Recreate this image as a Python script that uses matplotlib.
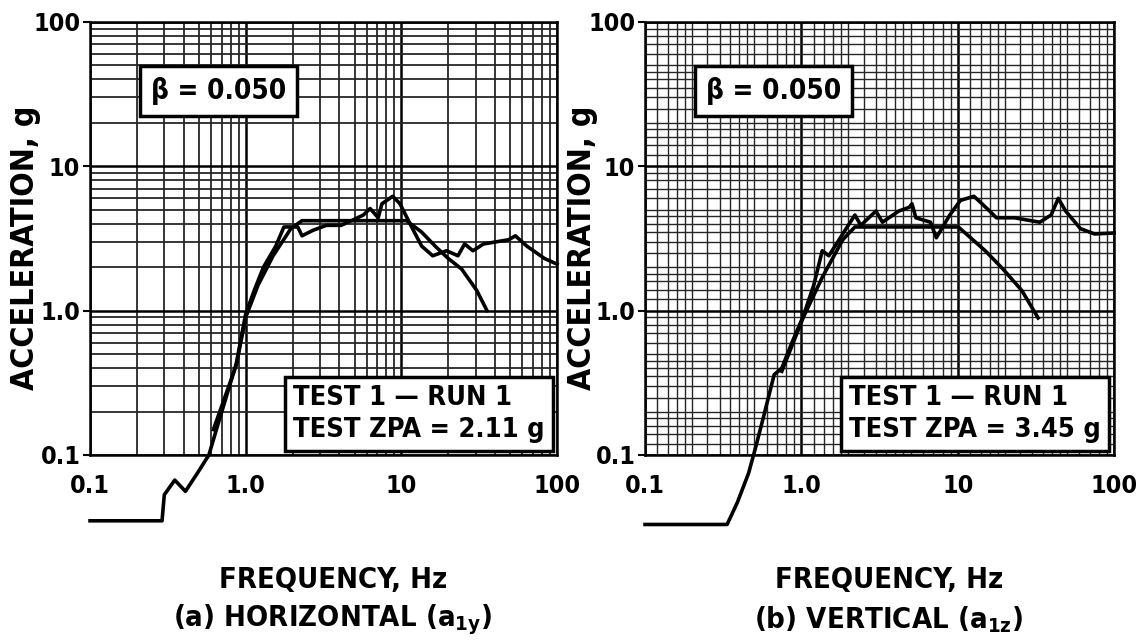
import numpy as np
import matplotlib
matplotlib.use("Agg")
import matplotlib.pyplot as plt
from matplotlib.ticker import LogLocator, NullFormatter

plt.rcParams['font.family'] = ['DejaVu Sans']
plt.rcParams['font.stretch'] = 'condensed'
plt.rcParams['font.weight'] = 'bold'
plt.rcParams['mathtext.fontset'] = 'custom'
plt.rcParams['mathtext.rm'] = 'DejaVu Sans:bold'
plt.rcParams['mathtext.it'] = 'DejaVu Sans:bold:italic'
plt.rcParams['mathtext.bf'] = 'DejaVu Sans:bold'

# (a) horizontal - measured response spectrum
h_freq = [0.1, 0.29, 0.30, 0.35, 0.41, 0.49, 0.58, 0.66, 0.87, 1.0, 1.14, 1.3, 1.56, 1.76,
          2.16, 2.3, 2.7, 3.3, 4.1, 5.0, 5.7, 6.3, 7.1, 7.5, 8.8, 9.8, 11.5, 13.5, 15.9,
          19.5, 23.1, 25.5, 28.8, 33.8, 49, 54, 64, 83, 100]
h_acc = [0.035, 0.035, 0.053, 0.067, 0.056, 0.075, 0.1, 0.16, 0.43, 0.95, 1.4, 2.0, 2.8, 3.8,
         3.8, 3.3, 3.6, 3.9, 3.9, 4.3, 4.6, 5.1, 4.4, 5.5, 6.2, 5.5, 3.9, 2.8, 2.4,
         2.6, 2.4, 2.9, 2.6, 2.9, 3.1, 3.3, 2.8, 2.3, 2.1]
# (a) horizontal - required envelope
h_env_freq = [0.62, 0.87, 1.0, 1.2, 1.5, 1.95, 2.3, 10.8, 13.5, 16.7, 20, 24.4, 30.5, 35.5]
h_env_acc = [0.15, 0.42, 0.9, 1.5, 2.4, 3.7, 4.2, 4.2, 3.5, 2.76, 2.3, 1.94, 1.38, 1.0]

# (b) vertical - measured response spectrum
v_freq = [0.1, 0.335, 0.39, 0.46, 0.51, 0.57, 0.67, 0.75, 0.87, 1.03, 1.2, 1.36, 1.5, 1.84,
          2.2, 2.4, 3.0, 3.3, 4.2, 4.9, 5.1, 5.4, 6.7, 7.3, 8.9, 10.4, 12.7, 14.3, 16,
          17.7, 23, 33.5, 39.6, 44, 49, 61, 75, 100]
v_acc = [0.033, 0.033, 0.047, 0.075, 0.113, 0.18, 0.36, 0.4, 0.6, 0.92, 1.5, 2.6, 2.4, 3.4,
         4.6, 3.9, 4.9, 4.1, 4.9, 5.2, 5.5, 4.4, 4.1, 3.2, 4.6, 5.8, 6.2, 5.5, 4.9,
         4.4, 4.4, 4.1, 4.6, 6.0, 4.9, 3.7, 3.4, 3.45]
# (b) vertical - required envelope
v_env_freq = [0.75, 1.03, 1.36, 1.84, 2.2, 10.1, 15, 19.5, 25.7, 32.7]
v_env_acc = [0.38, 0.9, 1.7, 3.1, 3.8, 3.8, 2.6, 1.94, 1.38, 0.89]

ticks = [0.1, 1, 10, 100]
tick_labels = ['0.1', '1.0', '10', '100']

fig = plt.figure(figsize=(11.37, 6.41), dpi=100)
ax1 = fig.add_axes([0.0792, 0.2902, 0.4107, 0.6755])
ax2 = fig.add_axes([0.5673, 0.2902, 0.4125, 0.6755])

panels = [
    (ax1, h_freq, h_acc, h_env_freq, h_env_acc, '2.11', '(a) HORIZONTAL (a$_{\\mathrm{1y}}$)',
     np.arange(1, 10), 1.3, 26),
    (ax2, v_freq, v_acc, v_env_freq, v_env_acc, '3.45', '(b) VERTICAL (a$_{\\mathrm{1z}}$)',
     np.array([1, 1.2, 1.4, 1.6, 1.8, 2, 2.5, 3, 3.5, 4, 4.5, 5, 6, 7, 8, 9]), 1.0, 582),
]

for ax, f, a, ef, ea, zpa, sub, subs, glw, ylab_x in panels:
    ax.set_xscale('log')
    ax.set_yscale('log')
    ax.set_xlim(0.1, 100)
    ax.set_ylim(0.1, 100)
    ax.xaxis.set_minor_locator(LogLocator(base=10, subs=subs))
    ax.yaxis.set_minor_locator(LogLocator(base=10, subs=subs))
    ax.xaxis.set_minor_formatter(NullFormatter())
    ax.yaxis.set_minor_formatter(NullFormatter())
    ax.grid(which='major', color='black', lw=1.8)
    ax.grid(which='minor', color='0.15', lw=glw)
    ax.set_axisbelow(True)
    ax.set_xticks(ticks)
    ax.set_xticklabels(tick_labels)
    ax.set_yticks(ticks)
    ax.set_yticklabels(tick_labels)
    ax.tick_params(which='minor', length=0)
    ax.tick_params(which='major', length=5, width=1.5, labelsize=18, pad=2)
    ax.tick_params(axis='x', which='major', length=0, pad=14)
    for s in ax.spines.values():
        s.set_linewidth(1.8)

    ax.plot(f, a, color='black', lw=2.6, clip_on=False, zorder=5)
    ax.plot(ef, ea, color='black', lw=2.6, clip_on=False, zorder=5)

    ax.text(0.13, 0.84, 'β = 0.050', transform=ax.transAxes, fontsize=20,
            va='center', ha='left', zorder=10,
            bbox=dict(boxstyle='square,pad=0.4', fc='white', ec='black', lw=2.5))
    ax.text(0.435, 0.095, 'TEST 1 — RUN 1\nTEST ZPA = %s g' % zpa, transform=ax.transAxes,
            fontsize=19.5, va='center', ha='left', linespacing=1.3, zorder=10,
            bbox=dict(boxstyle='square,pad=0.3', fc='white', ec='black', lw=2.5))

    fig.text(ylab_x / 1137, 1 - 248 / 641, 'ACCELERATION, g', rotation=90, fontsize=23,
             ha='center', va='center')
    ax.text(0.52, -0.289, 'FREQUENCY, Hz', transform=ax.transAxes, fontsize=21,
            ha='center', va='center')
    ax.text(0.52, -0.381, sub, transform=ax.transAxes, fontsize=21,
            ha='center', va='center')

fig.savefig('out.png', dpi=100)
